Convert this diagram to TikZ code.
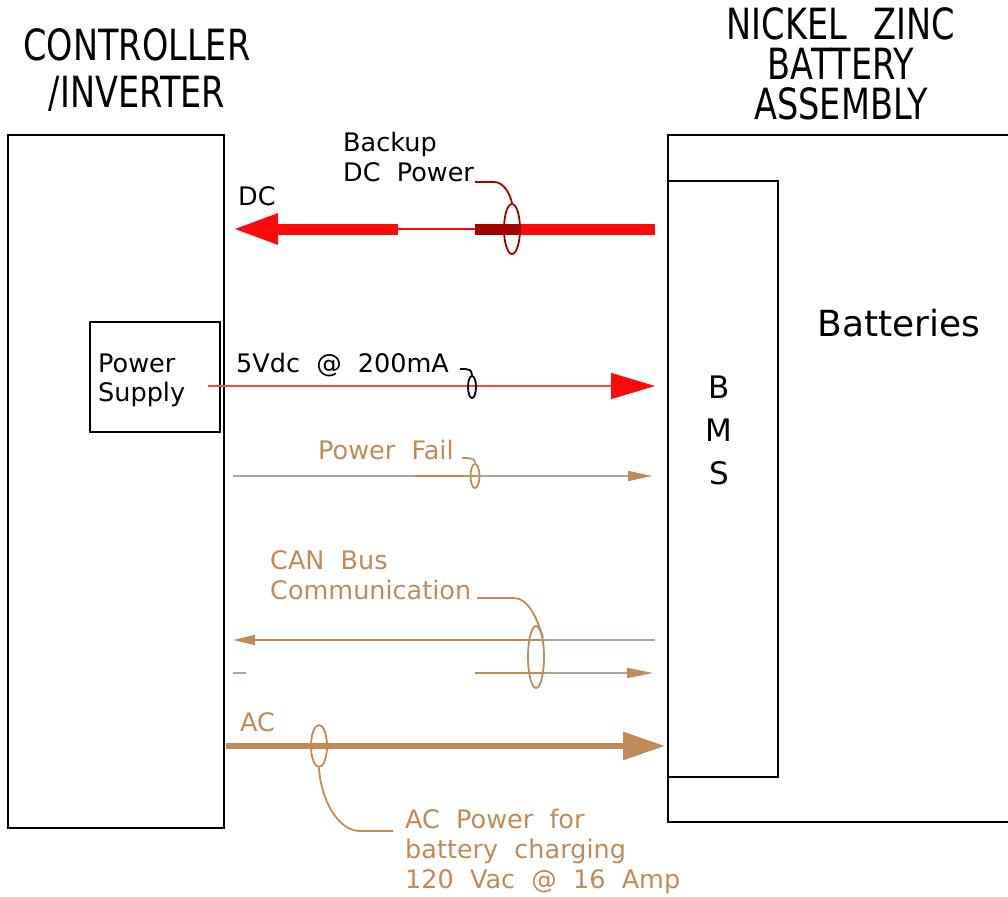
\documentclass[tikz,border=0pt]{standalone}
\usepackage{fontspec}
\setmainfont{DejaVu Sans}[WordSpace=2]
\newfontfamily\titlefont{DejaVu Sans}[FakeStretch=0.78, WordSpace=2.5]
\usetikzlibrary{positioning,arrows.meta,shapes.geometric}
\definecolor{wirered}{RGB}{250,10,10}
\definecolor{darkred}{RGB}{165,0,0}
\definecolor{wiretan}{RGB}{193,139,89}
\definecolor{wiregray}{RGB}{178,165,150}

\begin{document}
\begin{tikzpicture}[x=1pt, y=-1pt,
  box/.style={draw, line width=2.4pt, inner sep=0},
  title/.style={font=\titlefont\fontsize{43}{47}\selectfont, align=center},
  lbl/.style={font=\fontsize{25.5}{30}\selectfont, align=left, anchor=west, inner sep=0},
  ring/.style={ellipse, draw, line width=1.8pt, inner sep=0},
  lead/.style={line width=1.8pt},
  thin/.style={line width=1.8pt}]

  \useasboundingbox (0,0) rectangle (1008,896);

  % blocks
  \node[box, minimum width=216, minimum height=693] (ctrl) at (116,481.5) {};
  \node[box, minimum width=130, minimum height=110] (psu) at (155,377) {};
  \node[box, minimum width=110, minimum height=596] (bms) at (723,479) {};
  \draw[line width=2.4pt] (1008,135) -| (668,822) -- (1008,822);

  \node[title] (ctrlT) at (137,70) {CONTROLLER\\/INVERTER};
  \node[title, font=\titlefont\fontsize{43}{40}\selectfont] (battT) at (841,64) {NICKEL ZINC\\BATTERY\\ASSEMBLY};
  \node[font=\fontsize{36}{36}\selectfont] (batt) at (899,323) {Batteries};
  \node[font=\fontsize{31}{43}\selectfont, align=center] (bmsT) at (719,430) {B\\M\\S};
  \node[lbl, font=\fontsize{25.5}{29}\selectfont] (psuT) at (98,380) {Power\\Supply};

  % backup DC power
  \coordinate (dcA) at (655,229);
  \coordinate (dcB) at (520,229);
  \coordinate (dcC) at (475,229);
  \coordinate (dcD) at (398,229);
  \coordinate (dcE) at (232,229);
  \draw[wirered, line width=11pt] (dcA) -- (dcB);
  \draw[darkred, line width=11pt] (dcB) -- (dcC);
  \draw[wirered, line width=1.4pt] (dcC) -- (dcD);
  \draw[wirered, line width=11pt, -{Triangle[length=46pt,width=28pt]}] (dcD) -- (dcE);
  \node[ring, draw=darkred, minimum width=16, minimum height=50] (dcring) at (512,229) {};
  \coordinate (dctag) at (475,182);
  \draw[lead, darkred] (dcring.north) .. controls (510,194) and (504,182) .. (494,182) -- (dctag);
  \node[lbl] (dcT) at (343,157) {Backup\\DC Power};
  \node[lbl] (dcL) at (238,196) {DC};

  % 5V supply
  \coordinate (vA) at (208,386);
  \coordinate (vB) at (655,386);
  \draw[wirered!75, line width=1.2pt, -{Triangle[length=44pt,width=26pt,color=wirered]}] (vA) -- (vB);
  \node[ring, minimum width=8, minimum height=22] (vring) at (472,387) {};
  \coordinate (vtag) at (460,369);
  \draw[lead] (vtag) -- (465,369) .. controls (471,370) .. (vring.north);
  \node[lbl] (vT) at (236,365) {5Vdc @ 200mA};

  % power fail
  \coordinate (pfA) at (233,476);
  \coordinate (pfB) at (652,476);
  \coordinate (pfC) at (415,476);
  \coordinate (pfD) at (477,476);
  \draw[wiregray, thin, -{Triangle[length=24pt,width=10pt,color=wiretan]}] (pfA) -- (pfB);
  \draw[wiretan, thin] (pfC) -- (pfD);
  \node[ring, draw=wiretan, minimum width=9, minimum height=24] (pfring) at (475,476) {};
  \coordinate (pftag) at (462,458);
  \draw[lead, wiretan] (pftag) -- (467,458) .. controls (474,459) .. (pfring.north);
  \node[lbl, wiretan] (pfT) at (318,450) {Power Fail};

  % CAN bus
  \coordinate (cuA) at (655,640);
  \coordinate (cuB) at (545,640);
  \coordinate (cuC) at (233,640);
  \coordinate (clA) at (475,673);
  \coordinate (clB) at (545,673);
  \coordinate (clC) at (653,673);
  \coordinate (cdA) at (233,673);
  \coordinate (cdB) at (246,673);
  \draw[wiregray, thin] (cuA) -- (cuB);
  \draw[wiretan, thin, -{Triangle[length=22pt,width=10pt]}] (cuB) -- (cuC);
  \draw[wiretan, thin] (clA) -- (clB);
  \draw[wiregray, thin, -{Triangle[length=26pt,width=10pt,color=wiretan]}] (clB) -- (clC);
  \draw[wiregray, thin] (cdA) -- (cdB);
  \node[ring, draw=wiretan, minimum width=16, minimum height=62] (canring) at (536,657) {};
  \coordinate (cantag) at (477,598);
  \draw[lead, wiretan] (cantag) -- (514,598) .. controls (528,598) and (537,618) .. (canring.70);
  \node[lbl, wiretan] (canT) at (270,575) {CAN Bus\\Communication};

  % AC charging
  \coordinate (acA) at (226,746);
  \coordinate (acB) at (665,746);
  \draw[wiretan, line width=6pt, -{Triangle[length=42pt,width=27pt]}] (acA) -- (acB);
  \node[ring, draw=wiretan, minimum width=16, minimum height=42] (acring) at (319,746) {};
  \coordinate (actag) at (393,831);
  \draw[lead, wiretan] (acring.south) .. controls (321,800) and (338,831) .. (360,831) -- (actag);
  \node[lbl, wiretan] (acL) at (240,722) {AC};
  \node[lbl, wiretan] (acT) at (405,851) {AC Power for\\battery charging\\120 Vac @ 16 Amp};
\end{tikzpicture}
\end{document}
